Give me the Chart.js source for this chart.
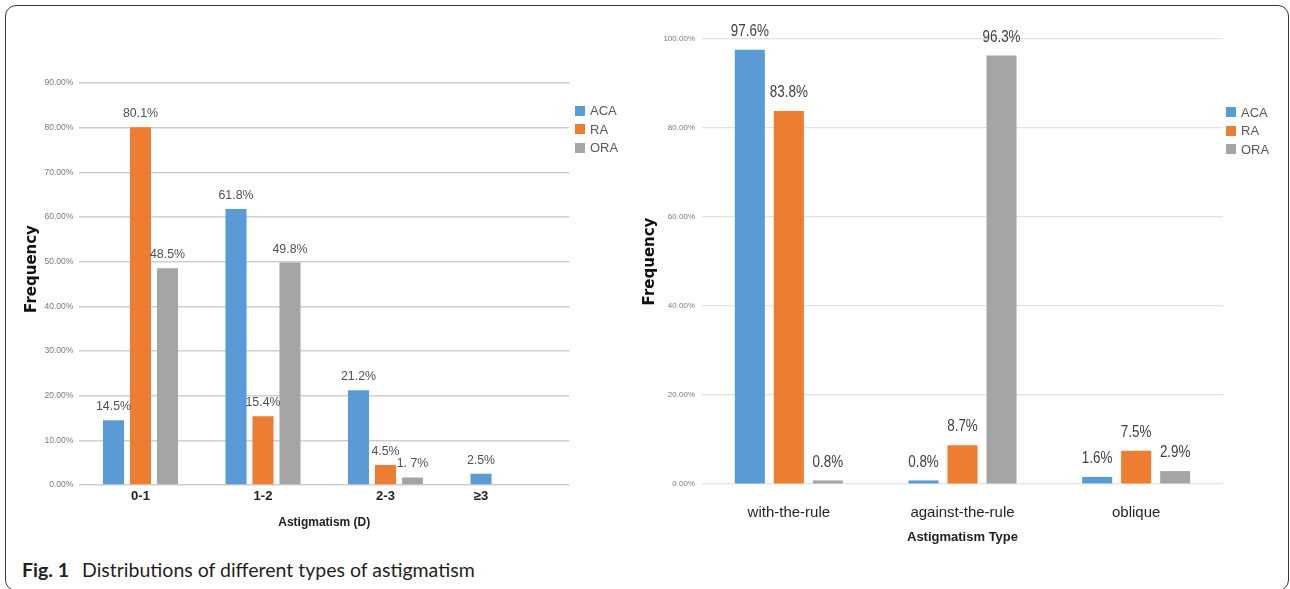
<!DOCTYPE html>
<html>
<head>
<meta charset="utf-8">
<title>Distributions of different types of astigmatism</title>
<script src="https://cdn.jsdelivr.net/npm/chart.js@4.4.1/dist/chart.umd.min.js"></script>
<style>
  html, body { margin: 0; padding: 0; background: #ffffff; }
  body { width: 1290px; height: 589px; position: relative; overflow: hidden; font-family: "Liberation Sans", Arial, sans-serif; }
  #frame { position: absolute; left: 4.5px; top: 5px; width: 1284px; height: 586px; box-sizing: border-box;
           border: 1.3px solid #3a3a3a; border-radius: 11px; }
  #powerWrap { position: absolute; left: 0; top: 0; width: 640px; height: 545px; }
  #typeWrap  { position: absolute; left: 640px; top: 0; width: 650px; height: 545px; }
  .legend { position: absolute; font: 13px "Liberation Sans", Arial, sans-serif; color: #595959; }
  .legend .row { height: 18.5px; display: flex; align-items: center; white-space: nowrap; }
  .legend .sw { width: 10px; height: 10px; margin-right: 5px; flex: none; }
  #powerLegend { left: 575px; top: 101.5px; }
  #typeLegend  { left: 1226px; top: 103px; }
  .cap { position: absolute; color: #231f20; font-family: Lato, "Open Sans", sans-serif; line-height: 1; white-space: nowrap; }
  #capNum  { left: 22px; top: 560px; font-size: 19.5px; font-weight: bold; }
  #capText { left: 82px; top: 560px; font-size: 19.5px; }
</style>
</head>
<body>
<div id="frame"></div>
<div id="powerWrap"><canvas id="powerChart"></canvas></div>
<div id="typeWrap"><canvas id="typeChart"></canvas></div>
<div id="powerLegend" class="legend"></div>
<div id="typeLegend" class="legend"></div>
<div id="capNum" class="cap">Fig. 1</div>
<div id="capText" class="cap">Distributions of different types of astigmatism</div>

<script>
// ---- data: astigmatism power (D) ----
const powerCategories = ['0-1', '1-2', '2-3', '≥3'];
const acaByPower = [14.5, 61.8, 21.2, 2.5];
const raByPower  = [80.1, 15.4, 4.5, null];
const oraByPower = [48.5, 49.8, 1.7, null];
const powerTickMax = 90;
const powerTickStep = 10;
const powerLabelText = { 'ORA|2-3': '1. 7%' };

// ---- data: astigmatism type ----
const typeCategories = ['with-the-rule', 'against-the-rule', 'oblique'];
const acaByType = [97.6, 0.8, 1.6];
const raByType  = [83.8, 8.7, 7.5];
const oraByType = [0.8, 96.3, 2.9];
const typeTickMax = 100;
const typeTickStep = 20;

const seriesNames = ['ACA', 'RA', 'ORA'];
const seriesColors = ['#5b9bd5', '#ed7d31', '#a5a5a5'];

// value labels drawn above each bar
const valueLabels = {
  id: 'valueLabels',
  afterDatasetsDraw(chart, args, opts) {
    const ctx = chart.ctx;
    chart.data.datasets.forEach((ds, di) => {
      const meta = chart.getDatasetMeta(di);
      meta.data.forEach((bar, i) => {
        const v = ds.data[i];
        if (v === null || v === undefined) return;
        const key = ds.label + '|' + chart.data.labels[i];
        const txt = (opts.overrides && opts.overrides[key]) || v.toFixed(1) + '%';
        ctx.save();
        ctx.font = opts.font;
        ctx.fillStyle = opts.color;
        ctx.textAlign = 'center';
        ctx.textBaseline = 'middle';
        ctx.translate(bar.x, bar.y - opts.offset);
        ctx.scale(opts.squeeze, 1);
        ctx.fillText(txt, 0, 0);
        ctx.restore();
      });
    });
  }
};

// category names centred under the bars that are present in each group
const groupLabels = {
  id: 'groupLabels',
  afterDraw(chart, args, opts) {
    if (!opts.enabled) return;
    const ctx = chart.ctx;
    const area = chart.chartArea;
    chart.data.labels.forEach((lab, i) => {
      const xs = [];
      chart.data.datasets.forEach((ds, di) => {
        if (ds.data[i] !== null && ds.data[i] !== undefined) xs.push(chart.getDatasetMeta(di).data[i].x);
      });
      if (!xs.length) return;
      const x = (Math.min(...xs) + Math.max(...xs)) / 2;
      ctx.save();
      ctx.font = opts.font;
      ctx.fillStyle = opts.color;
      ctx.textAlign = 'center';
      ctx.textBaseline = 'middle';
      ctx.fillText(lab, x, area.bottom + opts.offset);
      ctx.restore();
    });
  }
};

// rotated axis caption placed at a fixed spot beside the plot
const sideTitle = {
  id: 'sideTitle',
  afterDraw(chart, args, opts) {
    if (!opts.text) return;
    const ctx = chart.ctx;
    ctx.save();
    ctx.font = opts.font;
    ctx.fillStyle = opts.color;
    ctx.textAlign = 'center';
    ctx.textBaseline = 'middle';
    ctx.translate(opts.x, opts.y);
    ctx.rotate(-Math.PI / 2);
    ctx.fillText(opts.text, 0, 0);
    ctx.restore();
  }
};

function makeDatasets(seriesList, barPct, catPct) {
  return seriesList.map((vals, k) => ({
    label: seriesNames[k],
    data: vals,
    backgroundColor: seriesColors[k],
    borderWidth: 0,
    barPercentage: barPct,
    categoryPercentage: catPct
  }));
}

function buildLegend(id) {
  const el = document.getElementById(id);
  seriesNames.forEach((n, k) => {
    const row = document.createElement('div');
    row.className = 'row';
    const sw = document.createElement('span');
    sw.className = 'sw';
    sw.style.background = seriesColors[k];
    row.appendChild(sw);
    row.appendChild(document.createTextNode(n));
    el.appendChild(row);
  });
}
buildLegend('powerLegend');
buildLegend('typeLegend');

Chart.register(valueLabels, groupLabels, sideTitle);

// ---- left chart: astigmatism power ----
new Chart(document.getElementById('powerChart'), {
  type: 'bar',
  data: {
    labels: powerCategories,
    datasets: makeDatasets([acaByPower, raByPower, oraByPower], 0.78, 0.661)
  },
  options: {
    responsive: true,
    maintainAspectRatio: false,
    animation: false,
    layout: { padding: { left: 0, top: 83, right: 70.75, bottom: 0 } },
    plugins: {
      legend: { display: false },
      tooltip: { enabled: false },
      valueLabels: { font: '13px "Liberation Sans", Arial, sans-serif', color: '#505050', offset: 13.5, squeeze: 0.95, overrides: powerLabelText },
      groupLabels: { enabled: true, font: 'bold 13px "Liberation Sans", Arial, sans-serif', color: '#222222', offset: 11 },
      sideTitle: { text: 'Frequency', x: 32, y: 269, color: '#111111', font: 'bold 15px "DejaVu Sans", sans-serif' }
    },
    scales: {
      x: {
        grid: { display: false },
        border: { display: false },
        ticks: { display: false },
        title: { display: true, text: 'Astigmatism (D)', color: '#222222',
                 font: { family: '"Liberation Sans", Arial, sans-serif', size: 12, weight: 'bold' },
                 padding: { top: 0, bottom: 14.8 } },
        afterFit(s) { s.height = 60; }
      },
      y: {
        min: 0, max: powerTickMax,
        ticks: { stepSize: powerTickStep, padding: 6, color: '#7a7a7a',
                 font: { family: '"Liberation Sans", Arial, sans-serif', size: 8.5 },
                 callback: v => v.toFixed(2) + '%' },
        grid: { color: '#cfcfcf', lineWidth: 1.5, drawTicks: false },
        border: { display: false },
        title: { display: false },
        afterFit(s) { s.width = 79.25; }
      }
    }
  }
});

// ---- right chart: astigmatism type ----
new Chart(document.getElementById('typeChart'), {
  type: 'bar',
  data: {
    labels: typeCategories,
    datasets: makeDatasets([acaByType, raByType, oraByType], 0.77, 0.674)
  },
  options: {
    responsive: true,
    maintainAspectRatio: false,
    animation: false,
    layout: { padding: { left: 0, top: 39, right: 67, bottom: 0 } },
    plugins: {
      legend: { display: false },
      tooltip: { enabled: false },
      valueLabels: { font: '17px "Liberation Sans", Arial, sans-serif', color: '#404040', offset: 18.5, squeeze: 0.79 },
      groupLabels: { enabled: false },
      sideTitle: { text: null }
    },
    scales: {
      x: {
        grid: { display: false },
        border: { display: false },
        ticks: { padding: 12, color: '#262626',
                 font: { family: '"Liberation Sans", Arial, sans-serif', size: 15 } },
        title: { display: true, text: 'Astigmatism Type', color: '#222222',
                 font: { family: '"Liberation Sans", Arial, sans-serif', size: 13, weight: 'bold' },
                 padding: { top: 0, bottom: 0 } },
        afterFit(s) { s.height = 61; }
      },
      y: {
        min: 0, max: typeTickMax,
        ticks: { stepSize: typeTickStep, padding: 7, color: '#7a7a7a',
                 font: { family: '"Liberation Sans", Arial, sans-serif', size: 8 },
                 callback: v => v.toFixed(2) + '%' },
        grid: { color: '#e2e2e2', lineWidth: 1.2, drawTicks: false },
        border: { display: false },
        title: { display: true, text: 'Frequency', color: '#111111',
                 font: { family: '"DejaVu Sans", sans-serif', size: 15, weight: 'bold' },
                 padding: { top: 1, bottom: 0 } },
        afterFit(s) { s.width = 62; }
      }
    }
  }
});
</script>
</body>
</html>
